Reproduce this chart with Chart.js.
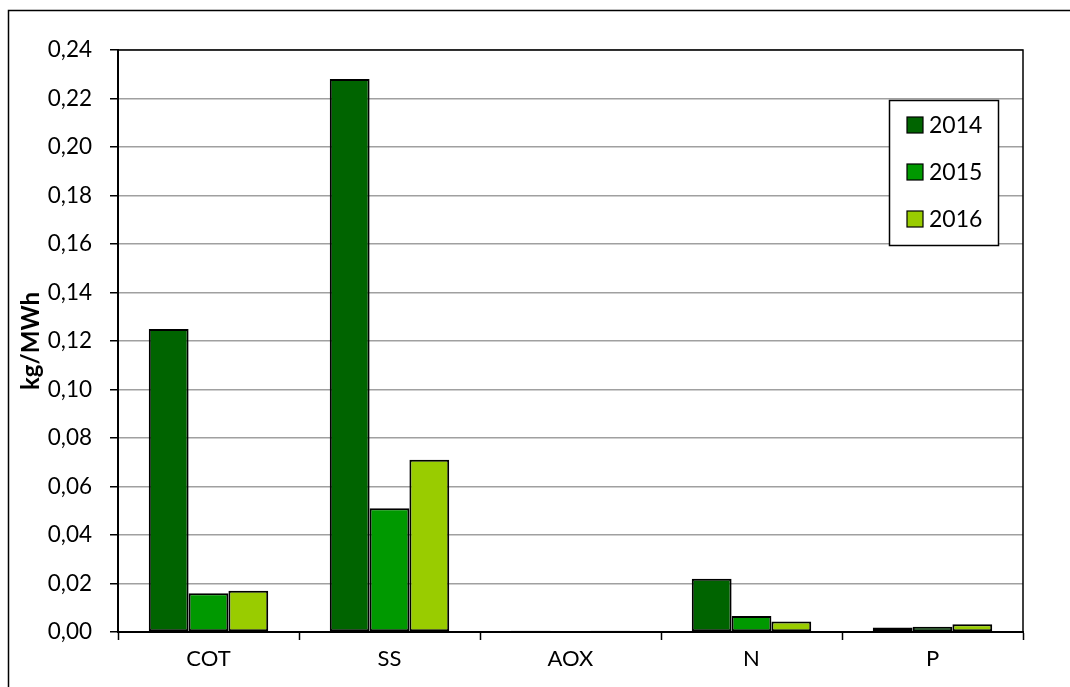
<!DOCTYPE html>
<html>
<head>
<meta charset="utf-8">
<script src="https://cdn.jsdelivr.net/npm/chart.js@4/dist/chart.umd.min.js"></script>
<style>
  html, body { margin: 0; padding: 0; background: #ffffff; }
  #wrap { width: 1070px; height: 687px; }
</style>
</head>
<body>
<div id="wrap"><canvas id="chart" width="1070" height="687"></canvas></div>
<script>
// Emissions to water per MWh, by parameter and year
const categories = ['COT', 'SS', 'AOX', 'N', 'P'];
const years = ['2014', '2015', '2016'];
const values2014 = [0.125, 0.228, 0.0005, 0.022, 0.0019];
const values2015 = [0.016, 0.051, 0.0003, 0.0066, 0.0022];
const values2016 = [0.017, 0.071, 0.0005, 0.0043, 0.0032];
const yTickValues = [0, 0.02, 0.04, 0.06, 0.08, 0.10, 0.12, 0.14, 0.16, 0.18, 0.20, 0.22, 0.24];
const yTitle = 'kg/MWh';

const colors = ['#006400', '#009900', '#99cc00'];
const FONT = 'Lato, "Open Sans", sans-serif';

// White page with a thin frame around the whole figure
const frame = {
  id: 'frame',
  beforeDraw(chart) {
    const c = chart.ctx;
    c.save();
    c.fillStyle = '#ffffff';
    c.fillRect(0, 0, chart.width, chart.height);
    c.strokeStyle = '#000000';
    c.lineWidth = 1.5;
    c.strokeRect(8.5, 10.5, chart.width + 20, chart.height + 20);
    c.restore();
  }
};

// Black outline around the plotting area
const plotBorder = {
  id: 'plotBorder',
  beforeDatasetsDraw(chart) {
    const a = chart.chartArea, c = chart.ctx;
    c.save();
    c.strokeStyle = '#000000';
    c.lineWidth = 1.5;
    c.beginPath();
    c.moveTo(a.left, a.top);
    c.lineTo(a.right, a.top);
    c.lineTo(a.right, a.bottom);
    c.stroke();
    c.restore();
  }
};

// Boxed legend placed inside the plot, upper right
const boxLegend = {
  id: 'boxLegend',
  afterDraw(chart) {
    const c = chart.ctx;
    const x = 889.5, y = 100.5, w = 109, h = 145;
    c.save();
    c.fillStyle = '#ffffff';
    c.fillRect(x, y, w, h);
    c.strokeStyle = '#000000';
    c.lineWidth = 1.5;
    c.strokeRect(x, y, w, h);
    c.font = '23px ' + FONT;
    c.textBaseline = 'middle';
    chart.data.datasets.forEach((ds, i) => {
      const cy = 125 + i * 47;
      c.fillStyle = ds.backgroundColor;
      c.fillRect(907, cy - 8, 16, 16);
      c.strokeStyle = '#000000';
      c.lineWidth = 1.2;
      c.strokeRect(907, cy - 8, 16, 16);
      c.fillStyle = '#000000';
      c.fillText(ds.label, 929, cy + 1);
    });
    c.restore();
  }
};

const seriesValues = [values2014, values2015, values2016];

new Chart(document.getElementById('chart'), {
  type: 'bar',
  data: {
    labels: categories,
    datasets: years.map((yr, i) => ({
      label: yr,
      data: seriesValues[i],
      backgroundColor: colors[i],
      borderColor: '#000000',
      borderWidth: 2,
      borderSkipped: false,
      barPercentage: 1.0,
      categoryPercentage: 0.66
    }))
  },
  options: {
    responsive: false,
    devicePixelRatio: 1,
    animation: false,
    layout: { padding: { left: 0, top: 50, right: 47, bottom: 0 } },
    plugins: {
      legend: { display: false },
      tooltip: { enabled: false }
    },
    scales: {
      x: {
        offset: true,
        grid: {
          offset: true,
          drawOnChartArea: false,
          drawTicks: true,
          tickLength: 8,
          tickColor: '#000000',
          tickWidth: 1.5
        },
        border: { color: '#000000', width: 2 },
        ticks: {
          color: '#000000',
          font: { family: FONT, size: 22 },
          padding: 6,
          maxRotation: 0
        },
        afterFit(scale) { scale.height = 55; }
      },
      y: {
        min: 0,
        max: 0.24,
        afterBuildTicks(scale) {
          scale.ticks = yTickValues.map(v => ({ value: v }));
        },
        grid: {
          color: '#a0a0a0',
          lineWidth: 1.5,
          drawTicks: true,
          tickLength: 8,
          tickColor: '#000000',
          tickWidth: 1.5
        },
        border: { color: '#000000', width: 2 },
        ticks: {
          color: '#000000',
          font: { family: FONT, size: 22.5 },
          padding: 18,
          callback: v => Number(v).toFixed(2).replace('.', ',')
        },
        title: {
          display: true,
          text: yTitle,
          color: '#000000',
          font: { family: FONT, size: 24, weight: 'bold' },
          padding: { top: 17, bottom: 0 }
        },
        afterFit(scale) { scale.width = 118; }
      }
    }
  },
  plugins: [frame, plotBorder, boxLegend]
});
</script>
</body>
</html>
